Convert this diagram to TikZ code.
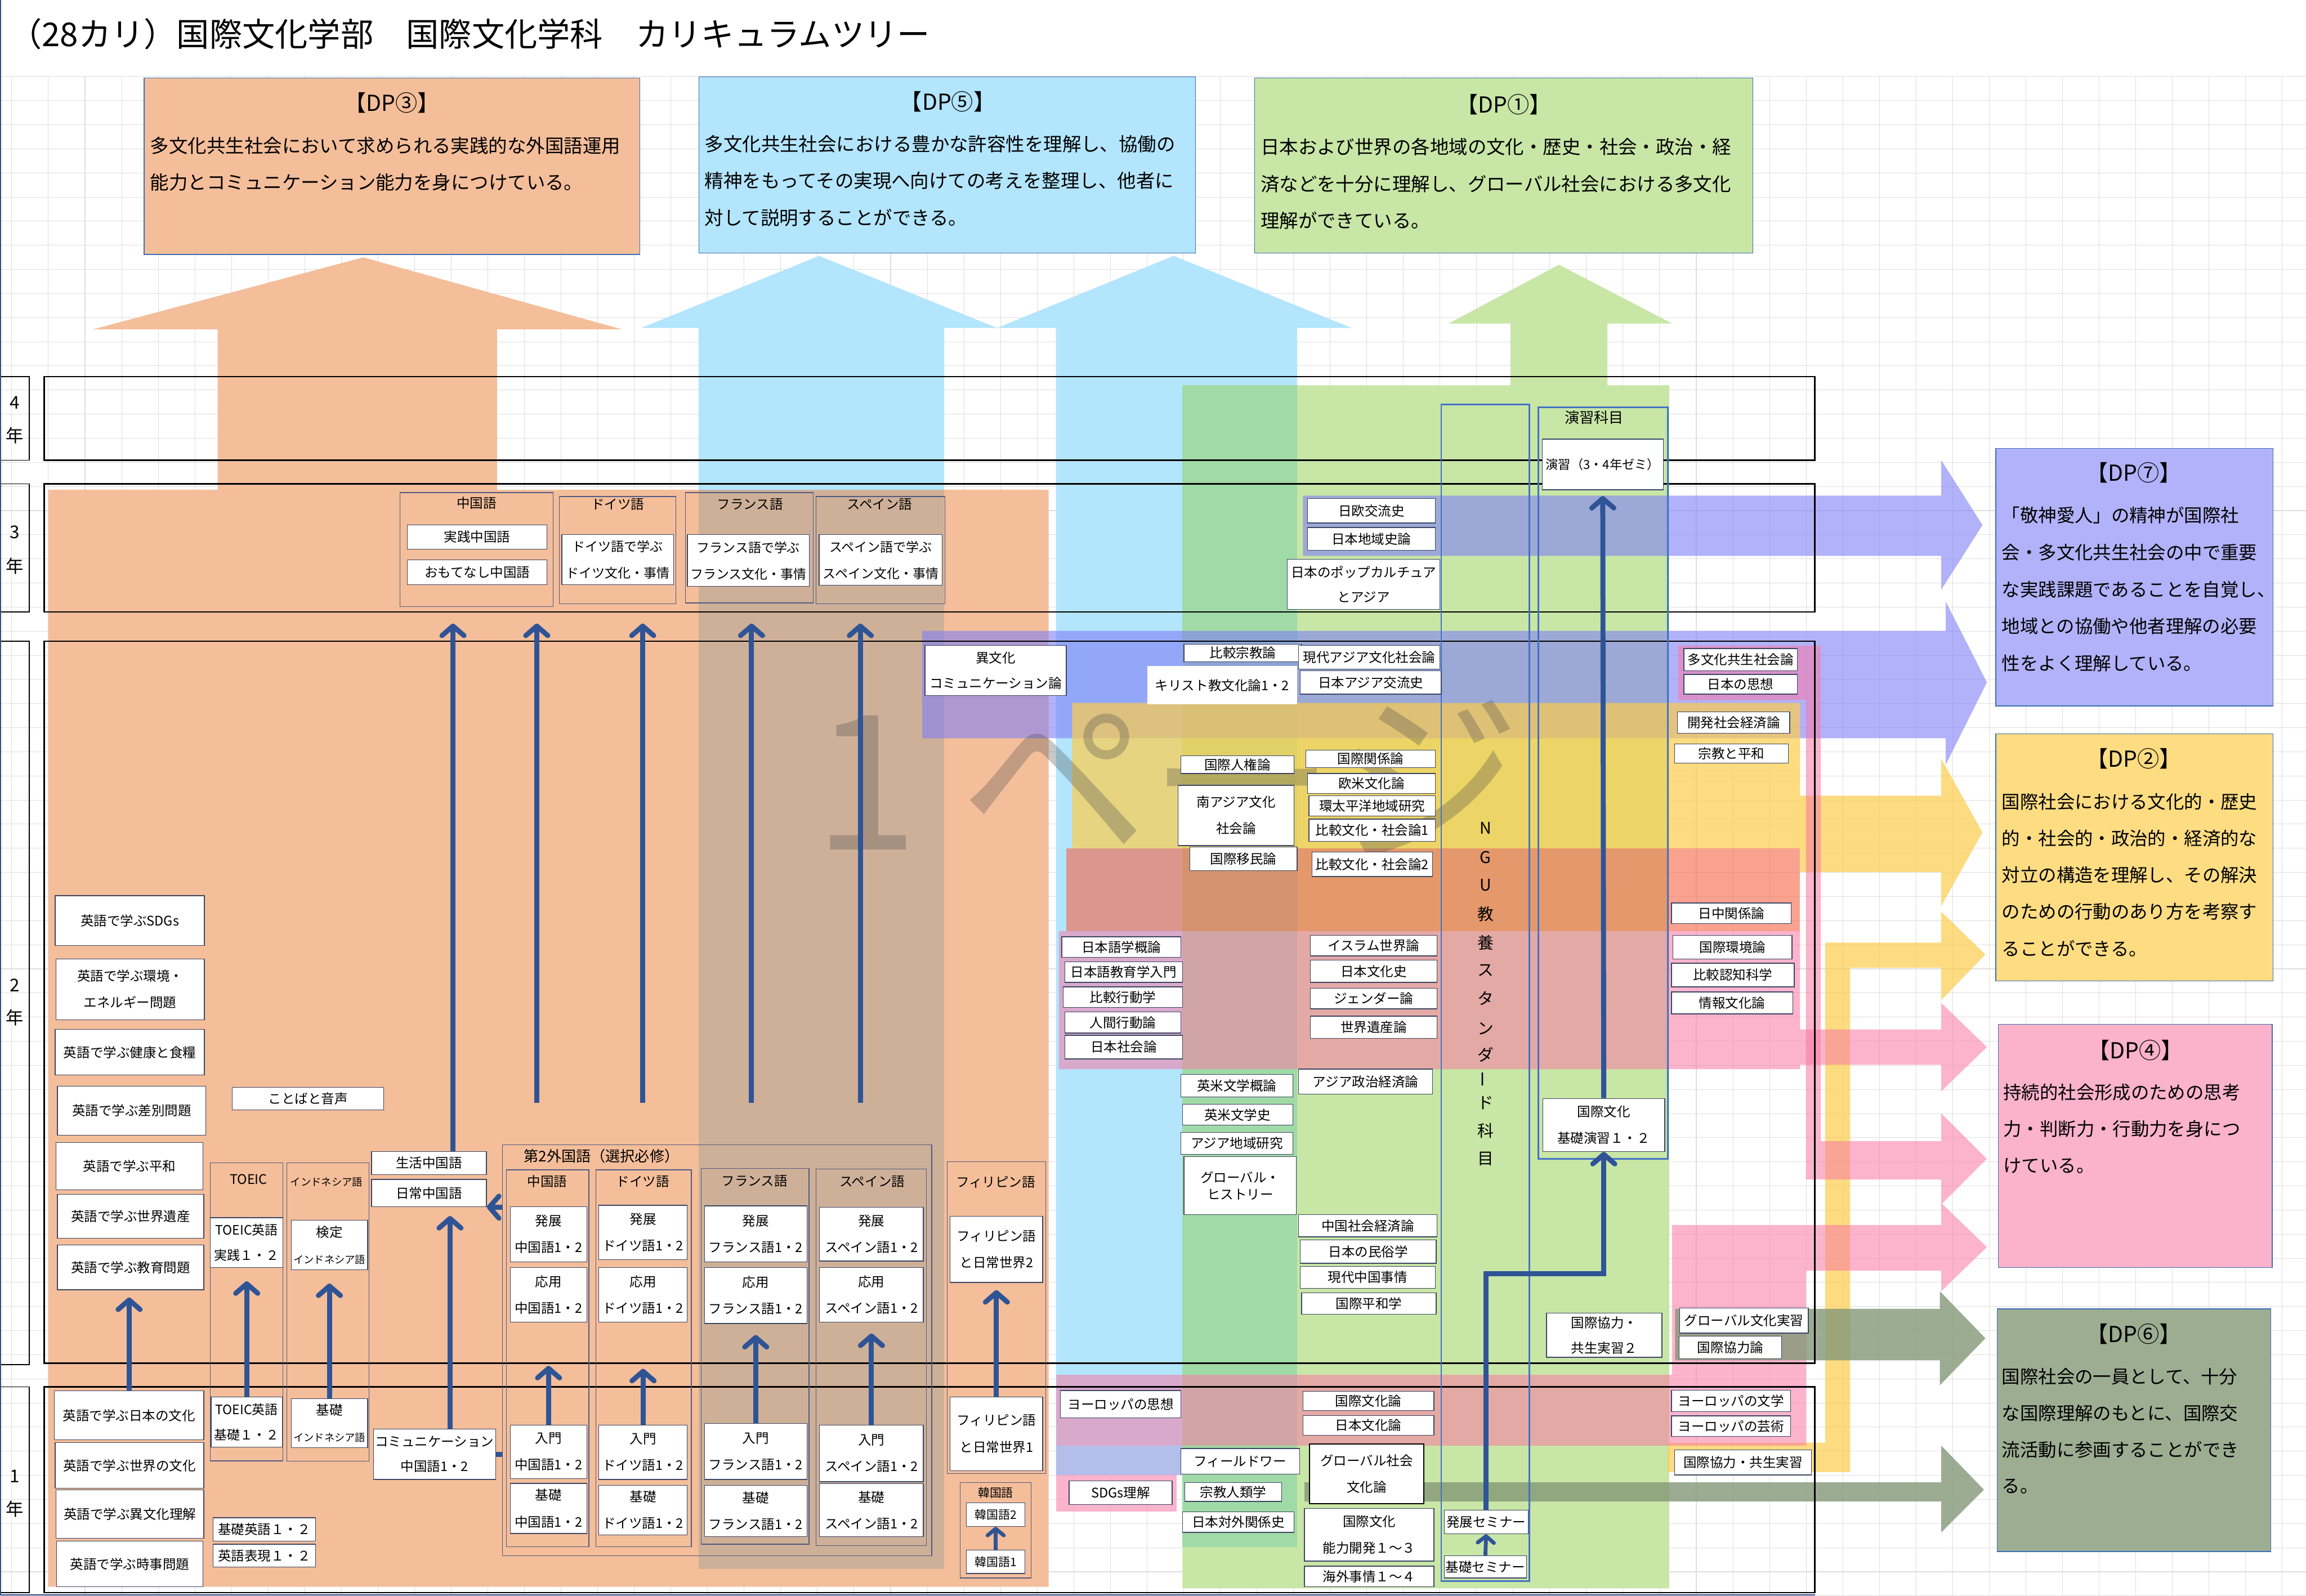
\documentclass[tikz,border=0pt]{standalone}
\usepackage{fontspec}
\setmainfont{Noto Sans CJK JP}
\usetikzlibrary{arrows.meta,calc}
\definecolor{orng}{RGB}{244,190,154}
\definecolor{lblue}{RGB}{179,229,252}
\definecolor{cTan}{RGB}{206,176,152}
\definecolor{lgreen}{RGB}{200,230,166}
\definecolor{dgreen}{RGB}{160,218,166}
\definecolor{lavd}{RGB}{180,190,235}
\definecolor{purp}{RGB}{127,127,247}
\definecolor{yell}{RGB}{252,205,76}
\definecolor{redb}{RGB}{247,100,70}
\definecolor{pinkb}{RGB}{250,120,165}
\definecolor{oliv}{RGB}{131,152,119}
\definecolor{dpseven}{RGB}{178,178,250}
\definecolor{dptwo}{RGB}{253,220,130}
\definecolor{dpfour}{RGB}{251,178,203}
\definecolor{dpsix}{RGB}{156,173,146}
\definecolor{arrc}{RGB}{47,84,150}
\definecolor{boxc}{RGB}{60,70,100}
\definecolor{grpc}{RGB}{80,90,130}
\definecolor{nguc}{RGB}{68,114,196}
\definecolor{gridc}{RGB}{222,222,222}
\definecolor{dpedge}{RGB}{60,110,180}
\tikzset{
 cbox/.style={draw=boxc, fill=white, line width=0.5pt, inner sep=0pt, align=center, font=\fontsize{9}{18}\selectfont},
 cgrp/.style={draw=grpc, fill=none, line width=0.5pt},
 glbl/.style={inner sep=0pt, font=\fontsize{9}{11}\selectfont},
 yrl/.style={inner sep=0pt, font=\fontsize{12}{14}\selectfont},
 ngut/.style={inner sep=0pt, font=\fontsize{11}{13}\selectfont},
 dpbox/.style={draw=dpedge, line width=0.5pt},
 dptitle/.style={inner sep=0pt, font=\fontsize{15}{18}\selectfont},
 dptxt/.style={inner sep=0pt, anchor=west, font=\fontsize{12.8}{15}\selectfont},
 arr/.style={draw=arrc, line width=3.4pt, -{Straight Barb[length=6.5pt,width=15pt,round]}},
 arrs/.style={draw=arrc, line width=2.6pt, -{Straight Barb[length=4.5pt,width=11pt,round]}},
 rowfr/.style={draw=black, line width=0.9pt},
}
\newcommand\cbx[7][]{\node[cbox,#1,minimum width={#5-#3},minimum height={#6-#4}] (#2) at ({(#3+#5)/2},{(#4+#6)/2}) {#7};}
\newcommand\dplines[5]{\foreach \dpl [count=\dpi] in {#5} {\node[dptxt] (#1\dpi) at (#2,{#3+(\dpi-1)*#4}) {\dpl};}}
\begin{document}
\begin{tikzpicture}[x=1pt,y=-1pt]
\useasboundingbox (0,0) rectangle (1568,1085);
\fill[white] (0,0) rectangle (1568,1085);
% grid
\foreach \gx in {0,...,62} \draw[gridc,line width=0.4pt] ({8+24.9*\gx},52) -- ({8+24.9*\gx},1085);
\foreach \gy in {0,...,63} \draw[gridc,line width=0.4pt] (0,{52+16.4*\gy}) -- (1568,{52+16.4*\gy});
% opaque columns
\fill[orng] (33,1079) -- (33,333) -- (148,333) -- (148,224) -- (63,224) -- (247,175) -- (423,224) -- (338,224) -- (338,333) -- (713,333) -- (713,1079) -- cycle;
\fill[lblue] (475,333) -- (475,223) -- (436,223) -- (557,174) -- (678,223) -- (642,223) -- (642,333) -- cycle;
\fill[cTan] (475,333) rectangle (642,1067);
\fill[lgreen] (804,1080) -- (804,262) -- (1027,262) -- (1027,220) -- (985,220) -- (1060,180) -- (1137,220) -- (1093,220) -- (1093,262) -- (1135,262) -- (1135,1080) -- cycle;
\fill[lblue] (718,1003) -- (718,223) -- (678,223) -- (798,174) -- (919,223) -- (882,223) -- (882,1003) -- cycle;
\fill[dgreen] (804,262) rectangle (882,1052);
\fill[lavd] (718,983) rectangle (804,1003);
% transparent bands
\fill[purp, fill opacity=0.6] (886,337) -- (1320,337) -- (1320,313) -- (1348,357) -- (1320,401) -- (1320,378) -- (886,378) -- cycle;
\fill[purp, fill opacity=0.6] (627,429) -- (1323,429) -- (1323,409) -- (1351,464) -- (1323,520) -- (1323,502) -- (627,502) -- cycle;
\fill[yell, fill opacity=0.7] (729,478) -- (1224,478) -- (1224,541) -- (1320,541) -- (1320,516) -- (1348,566) -- (1320,616) -- (1320,593) -- (1224,593) -- (1224,577) -- (729,577) -- cycle;
\fill[redb, fill opacity=0.6] (725,577) rectangle (1224,633);
\fill[yell, fill opacity=0.7] (1134,981) -- (1241,981) -- (1241,641) -- (1320,641) -- (1320,620) -- (1350,649) -- (1320,680) -- (1320,658) -- (1258,658) -- (1258,1001) -- (1134,1001) -- cycle;
\fill[pinkb, fill opacity=0.55] (720,633) -- (1224,633) -- (1224,700) -- (1320,700) -- (1320,682) -- (1351,712) -- (1320,742) -- (1320,724) -- (1224,724) -- (1224,727) -- (720,727) -- cycle;
\fill[pinkb, fill opacity=0.55] (1141,439) -- (1238,439) -- (1238,776) -- (1320,776) -- (1320,757) -- (1351,788) -- (1320,819) -- (1320,802) -- (1228,802) -- (1228,476) -- (1141,476) -- cycle;
\fill[pinkb, fill opacity=0.55] (1137,833) -- (1320,833) -- (1320,818) -- (1351,848) -- (1320,878) -- (1320,864) -- (1228,864) -- (1228,935) -- (1137,935) -- cycle;
\fill[pinkb, fill opacity=0.55] (718,935) rectangle (1228,983);
\fill[pinkb, fill opacity=0.55] (718,1003) rectangle (800,1028);
\fill[oliv, fill opacity=0.8] (1139,890) -- (1319,890) -- (1319,878) -- (1350,910) -- (1319,942) -- (1319,925) -- (1139,925) -- cycle;
\fill[oliv, fill opacity=0.8] (887,1008) -- (1320,1008) -- (1320,983) -- (1349,1013) -- (1320,1042) -- (1320,1021) -- (887,1021) -- cycle;
% watermark
\node[anchor=base west, inner sep=0pt, font=\fontsize{128}{128}\selectfont, text=black!70, text opacity=0.3] (wm) at (553,578) {1 ページ};
% row frames
\draw[rowfr] (30,256) rectangle (1234,313);
\draw[rowfr] (30,329) rectangle (1234,416);
\draw[rowfr] (30,436) rectangle (1234,927);
\draw[rowfr] (30,943) rectangle (1234,1083);
\draw[rowfr,line width=0.6pt] (0.5,256) rectangle (20,313);
\draw[rowfr,line width=0.6pt] (0.5,329) rectangle (20,416);
\draw[rowfr,line width=0.6pt] (0.5,436) rectangle (20,928);
\draw[rowfr,line width=0.6pt] (0.5,943) rectangle (20,1083);
\node[yrl] (y4a) at (10,274) {4}; \node[yrl] (y4b) at (10,296) {年};
\node[yrl] (y3a) at (10,362) {3}; \node[yrl] (y3b) at (10,385) {年};
\node[yrl] (y2a) at (10,670) {2}; \node[yrl] (y2b) at (10,692) {年};
\node[yrl] (y1a) at (10,1004) {1}; \node[yrl] (y1b) at (10,1026) {年};
% NGU and enshu columns
\cbx[cgrp, draw=nguc, line width=1pt]{ngu}{980}{275}{1040}{1075}{}
\cbx[cgrp, draw=nguc, line width=1pt]{enshuG}{1046}{277}{1134}{788}{}
\node[glbl, font=\fontsize{10}{12}\selectfont] (enshuL) at (1084,284) {演習科目};
\node[ngut] (n1) at (1010,563) {N};
\node[ngut] (n2) at (1010,583) {G};
\node[ngut] (n3) at (1010,602) {U};
\node[ngut] (n4) at (1010,621.5) {教};
\node[ngut] (n5) at (1010,641) {養};
\node[ngut] (n6) at (1010,660) {ス};
\node[ngut] (n7) at (1010,679) {タ};
\node[ngut] (n8) at (1010,699.5) {ン};
\node[ngut] (n9) at (1010,717) {ダ};
\node[ngut, rotate=90] (n10) at (1010,734) {ー};
\node[ngut] (n11) at (1010,750) {ド};
\node[ngut] (n12) at (1010,769) {科};
\node[ngut] (n13) at (1010,788) {目};
% year 3
\cbx[cgrp]{gA}{272}{335}{376}{412.6}{}
\node[glbl] (gAl) at (324,342) {中国語};
\cbx{jissen}{277}{357}{372}{373.4}{実践中国語}
\cbx{omote}{277}{380.8}{372}{397.6}{おもてなし中国語}
\cbx[cgrp]{gB}{380.3}{337.6}{459.6}{410.5}{}
\node[glbl] (gBl) at (420,343) {ドイツ語};
\cbx[font=\fontsize{8.8}{18}\selectfont]{deK}{382}{363.6}{458}{397.6}{ドイツ語で学ぶ\\ドイツ文化・事情}
\cbx[cgrp]{gC}{466}{335}{553}{410}{}
\node[glbl] (gCl) at (510,343) {フランス語};
\cbx[font=\fontsize{8.8}{18}\selectfont]{frK}{467.4}{363.6}{550.3}{398.8}{フランス語で学ぶ\\フランス文化・事情}
\cbx[cgrp]{gD}{555}{337.6}{642.5}{410.5}{}
\node[glbl] (gDl) at (598,343) {スペイン語};
\cbx[font=\fontsize{8.8}{18}\selectfont]{esK}{557}{363.6}{640.7}{398}{スペイン語で学ぶ\\スペイン文化・事情}
\cbx{nichiou}{889}{339}{976}{355.6}{日欧交流史}
\cbx{chiiki}{889}{358.7}{976}{374.3}{日本地域史論}
\cbx[font=\fontsize{9}{17}\selectfont]{pop}{875.4}{380.4}{979}{414.4}{日本のポップカルチュア\\とアジア}
\cbx[font=\fontsize{8.5}{12}\selectfont]{enshu}{1048.6}{298.6}{1131}{333}{演習（3・4年ゼミ）}
% year 2 middle
\cbx[font=\fontsize{9}{17}\selectfont]{ibunka}{629}{439}{725}{473}{異文化\\コミュニケーション論}
\cbx{hikakushu}{805}{438}{885}{450}{比較宗教論}
\cbx[draw=none]{kirisuto}{780}{453}{882}{479}{キリスト教文化論1・2}
\cbx{gendai}{883}{439}{979}{455}{現代アジア文化社会論}
\cbx{nihonasia}{884}{456}{980}{472}{日本アジア交流史}
\cbx{tabunka}{1145}{441}{1222}{456}{多文化共生社会論}
\cbx{shiso}{1145}{458.6}{1222}{472}{日本の思想}
\cbx{kaihatsu}{1140.6}{484}{1217}{498.6}{開発社会経済論}
\cbx{shukyo}{1138.6}{506}{1216}{519}{宗教と平和}
\cbx{jinken}{803}{514}{880}{526}{国際人権論}
\cbx{minami}{801}{534}{880}{575}{南アジア文化\\社会論}
\cbx{imin}{809}{576}{882}{592}{国際移民論}
\cbx{kankei}{888}{510}{976}{522}{国際関係論}
\cbx{obei}{889}{526}{976}{539.5}{欧米文化論}
\cbx{kantai}{890}{541}{976}{555}{環太平洋地域研究}
\cbx{hikaku1}{890}{557}{976}{572}{比較文化・社会論1}
\cbx{hikaku2}{892}{579.5}{974}{596}{比較文化・社会論2}
\cbx{nicchu}{1136.5}{614}{1218}{628}{日中関係論}
\cbx{nihongo}{722}{637}{803}{651}{日本語学概論}
\cbx{kyoiku}{724}{654}{804}{668}{日本語教育学入門}
\cbx{kodo}{723}{671}{804}{685}{比較行動学}
\cbx{ningen}{724}{688}{803}{702.5}{人間行動論}
\cbx{shakai}{724}{704}{804}{720}{日本社会論}
\cbx{islam}{891}{636}{977}{650}{イスラム世界論}
\cbx{bunkashi}{891}{653}{977}{668}{日本文化史}
\cbx{gender}{891}{672}{977}{686}{ジェンダー論}
\cbx{isan}{891}{691}{977}{706}{世界遺産論}
\cbx{kankyo}{1137.5}{636}{1218.5}{652}{国際環境論}
\cbx{ninchi}{1136.5}{655}{1220}{671}{比較認知科学}
\cbx{joho}{1136.5}{674.5}{1219}{689.4}{情報文化論}
\cbx{asiasei}{883}{727}{974}{744}{アジア政治経済論}
\cbx{eibeiG}{803}{730.5}{879}{746}{英米文学概論}
\cbx{eibeiS}{804}{751}{879}{765}{英米文学史}
\cbx{asiachi}{803}{770}{879}{785}{アジア地域研究}
\cbx[font=\fontsize{9}{11.5}\selectfont]{ghist}{805}{786.5}{881.5}{826}{グローバル・\\ヒストリー}
\cbx{chugokus}{883}{826}{977}{841}{中国社会経済論}
\cbx{minzoku}{884}{843}{976.5}{859}{日本の民俗学}
\cbx{chugokuj}{884}{861}{976}{876}{現代中国事情}
\cbx{heiwa}{885}{879}{976.5}{893.6}{国際平和学}
\cbx{kiso}{1049}{747}{1132}{783}{国際文化\\基礎演習１・２}
\cbx[font=\fontsize{9}{17}\selectfont]{kyoryoku2}{1051.6}{893}{1130}{923}{国際協力・\\共生実習２}
\cbx{gbjisshu}{1142}{889.5}{1229.6}{906.5}{グローバル文化実習}
\cbx{kyoryokuron}{1141.7}{908.5}{1211.5}{924}{国際協力論}
% year 1 middle
\cbx{eushiso}{721}{945.5}{803}{964}{ヨーロッパの思想}
\cbx{kokubun}{886}{946}{975}{959}{国際文化論}
\cbx{nihonbun}{886}{962.5}{975}{976}{日本文化論}
\cbx{field}{803}{985}{883.6}{1002.5}{フィールドワー}
\cbx{sdgs}{727}{1007}{797}{1023}{SDGs理解}
\cbx{jinrui}{805.5}{1008}{871.5}{1021}{宗教人類学}
\cbx{taigai}{804}{1028}{880}{1042}{日本対外関係史}
\cbx[draw=black, line width=0.7pt]{gshakai}{890.5}{982}{968}{1022.5}{グローバル社会\\文化論}
\cbx{noryoku}{887}{1025.6}{975}{1061.5}{国際文化\\能力開発１～３}
\cbx{kaigai}{887}{1065}{975}{1079}{海外事情１～４}
\cbx{hatten}{982}{1027}{1039}{1043}{発展セミナー}
\cbx{kisosem}{982}{1058}{1038}{1073}{基礎セミナー}
\cbx{eubun}{1136.5}{945.4}{1217.6}{960}{ヨーロッパの文学}
\cbx{eugei}{1136.5}{962.7}{1217.6}{976.8}{ヨーロッパの芸術}
\cbx{kyoryoku1}{1138.6}{986}{1231.8}{1003}{国際協力・共生実習}
% left english column
\cbx{eSDG}{37.5}{609}{139}{643}{英語で学ぶSDGs}
\cbx{eEnv}{38}{652}{139}{693.5}{英語で学ぶ環境・\\エネルギー問題}
\cbx{eHealth}{37.5}{700}{139}{731}{英語で学ぶ健康と食糧}
\cbx{eDisc}{39}{738.5}{140}{772}{英語で学ぶ差別問題}
\cbx{ePeace}{38}{777}{138}{809}{英語で学ぶ平和}
\cbx{eHer}{39}{812}{138.6}{842}{英語で学ぶ世界遺産}
\cbx{eEdu}{39}{846.5}{138.6}{877}{英語で学ぶ教育問題}
\cbx{kotoba}{158}{739.5}{261}{754.6}{ことばと音声}
\cbx[cgrp]{gToeic}{143}{790.6}{192.4}{993.4}{}
\node[glbl] (gToeicL) at (169,802) {TOEIC};
\cbx[font=\fontsize{8.8}{17}\selectfont]{toeicA}{143}{828}{192.4}{862}{TOEIC英語\\実践１・２}
\cbx[font=\fontsize{8.8}{17}\selectfont]{toeicB}{143.5}{950}{192}{984}{TOEIC英語\\基礎１・２}
\cbx[cgrp]{gInd}{195}{790.6}{251}{993.7}{}
\node[glbl, font=\fontsize{7}{9}\selectfont] (gIndL) at (222,804) {インドネシア語};
\cbx{indA}{198}{829.6}{250}{863.5}{検定\\{\fontsize{7}{9}\selectfont インドネシア語}}
\cbx{indB}{198}{951}{250}{984.5}{基礎\\{\fontsize{7}{9}\selectfont インドネシア語}}
\cbx{seikatsu}{252.6}{783}{330.8}{798.6}{生活中国語}
\cbx{nichijo}{252.6}{802}{330.8}{820.6}{日常中国語}
\cbx[font=\fontsize{9}{17}\selectfont]{comm}{254}{971.7}{337}{1006}{コミュニケーション\\中国語1・2}
\cbx{eJ}{37}{945.8}{138.6}{979}{英語で学ぶ日本の文化}
\cbx{eW}{37.5}{981}{138.6}{1012}{英語で学ぶ世界の文化}
\cbx{eI}{38}{1013}{138.6}{1046}{英語で学ぶ異文化理解}
\cbx{eN}{38.5}{1048}{138}{1079}{英語で学ぶ時事問題}
\cbx{kisoE}{145}{1032}{214.6}{1048}{基礎英語１・２}
\cbx{hyogen}{145}{1050}{214.6}{1065.6}{英語表現１・２}
% second foreign language
\cbx[cgrp]{g2}{341.6}{778.4}{633.6}{1058}{}
\node[glbl, font=\fontsize{10}{12}\selectfont] (g2L) at (409,786.3) {第2外国語（選択必修）};
\cbx[cgrp]{g2zh}{344.4}{795.5}{400.4}{1051.7}{}
\node[glbl] (g2zhL) at (372,803.4) {中国語};
\cbx[cgrp]{g2de}{405.2}{795.5}{470.1}{1051.7}{}
\node[glbl] (g2deL) at (437,803.4) {ドイツ語};
\cbx[cgrp]{g2fr}{476.9}{794.5}{550.1}{1050}{}
\node[glbl] (g2frL) at (513,803) {フランス語};
\cbx[cgrp]{g2es}{555}{795}{629.8}{1051}{}
\node[glbl] (g2esL) at (593,803.4) {スペイン語};
\cbx{zh3}{347}{820.6}{399}{858}{発展\\中国語1・2}
\cbx{zh2}{347}{862}{399}{899}{応用\\中国語1・2}
\cbx{zh1}{347}{969}{399}{1005.5}{入門\\中国語1・2}
\cbx{zh0}{347}{1008.7}{399}{1042.8}{基礎\\中国語1・2}
\cbx{de3}{407.2}{819.6}{467.3}{856.5}{発展\\ドイツ語1・2}
\cbx{de2}{407.2}{862}{467.3}{899}{応用\\ドイツ語1・2}
\cbx{de1}{407.2}{969}{467.3}{1006}{入門\\ドイツ語1・2}
\cbx{de0}{407.2}{1010}{467.3}{1043.6}{基礎\\ドイツ語1・2}
\cbx{fr3}{479}{820}{548.7}{858}{発展\\フランス語1・2}
\cbx{fr2}{479}{862}{548.7}{900}{応用\\フランス語1・2}
\cbx{fr1}{479}{968}{548.7}{1006}{入門\\フランス語1・2}
\cbx{fr0}{479}{1010}{548.7}{1045}{基礎\\フランス語1・2}
\cbx{es3}{557.3}{821}{627.8}{857.5}{発展\\スペイン語1・2}
\cbx{es2}{557.3}{862}{627.8}{899}{応用\\スペイン語1・2}
\cbx{es1}{557.3}{969}{627.8}{1007.5}{入門\\スペイン語1・2}
\cbx{es0}{557.3}{1009}{627.8}{1045}{基礎\\スペイン語1・2}
% philippine, korean
\cbx[cgrp]{gPh}{644}{790}{711}{1002}{}
\node[glbl] (gPhL) at (677,804) {フィリピン語};
\cbx{ph2}{646}{827}{709}{872}{フィリピン語\\と日常世界2}
\cbx{ph1}{646}{950}{709}{1000}{フィリピン語\\と日常世界1}
\cbx[cgrp]{gKo}{653}{1008}{701}{1073}{}
\node[glbl, font=\fontsize{8}{10}\selectfont] (gKoL) at (677,1015) {韓国語};
\cbx[font=\fontsize{8}{10}\selectfont]{ko2}{657}{1022}{697}{1038}{韓国語2}
\cbx[font=\fontsize{8}{10}\selectfont]{ko1}{657}{1054}{697}{1070}{韓国語1}
% arrows
\coordinate (t1) at (308,424);
\coordinate (b2) at (365,750); \coordinate (t2) at (365,424);
\coordinate (b3) at (437,750); \coordinate (t3) at (437,424);
\coordinate (b4) at (511,750); \coordinate (t4) at (511,424);
\coordinate (b5) at (585,750); \coordinate (t5) at (585,424);
\coordinate (s1) at ([xshift=16.3pt]seikatsu.north);
\draw[arr] (s1) -- (t1);
\draw[arr] (b2) -- (t2);
\draw[arr] (b3) -- (t3);
\draw[arr] (b4) -- (t4);
\draw[arr] (b5) -- (t5);
\draw[arr, shorten >=5pt] (eJ.north) -- (eJ.north |- eEdu.south);
\draw[arr, shorten >=9pt] (toeicB.north) -- (toeicB.north |- toeicA.south);
\draw[arr, shorten >=9pt] (indB.north) -- (indB.north |- indA.south);
\coordinate (cx) at ([xshift=10.5pt]comm.north);
\draw[arr, shorten >=6pt] (cx) -- (cx |- nichijo.south);
\draw[arr] (zh1.north) -- ([yshift=40pt]zh1.north);
\draw[arr] (de1.north) -- ([yshift=38pt]de1.north);
\draw[arr] (fr1.north) -- ([yshift=60pt]fr1.north);
\draw[arr] (es1.north) -- ([yshift=62pt]es1.north);
\draw[arr] (g2.west |- nichijo.south east) -- (nichijo.south east);
\draw[draw=arrc, line width=3.4pt] (comm.east) -- (comm.east -| g2.west);
\draw[arr, shorten >=5pt] (ph1.north) -- (ph1.north |- ph2.south);
\draw[arrs] (ko1.north) -- (ko2.south);
\draw[arrs] (kisosem.north) -- (hatten.south);
\draw[arr] (hatten.north) |- ($(kiso.south)+(0,83)$) -- (kiso.south);
\draw[arr, shorten >=4pt] (kiso.north) -- (enshu.south);
% DP boxes top
\cbx[dpbox, fill=orng]{dp3}{98}{53}{435}{173}{}
\node[dptitle] (dp3t) at (266.5,70) {【DP③】};
\dplines{dp3l}{102}{99}{25}{多文化共生社会において求められる実践的な外国語運用,能力とコミュニケーション能力を身につけている。}
\cbx[dpbox, fill=lblue]{dp5}{475.3}{52.2}{813}{172}{}
\node[dptitle] (dp5t) at (644.5,69) {【DP⑤】};
\dplines{dp5l}{479}{98}{25}{多文化共生社会における豊かな許容性を理解し、協働の,精神をもってその実現へ向けての考えを整理し、他者に,対して説明することができる。}
\cbx[dpbox, fill=lgreen]{dp1}{853}{53}{1192}{172}{}
\node[dptitle] (dp1t) at (1022.5,71) {【DP①】};
\dplines{dp1l}{857}{100}{25}{日本および世界の各地域の文化・歴史・社会・政治・経,済などを十分に理解し、グローバル社会における多文化,理解ができている。}
% DP boxes right
\begin{scope}[dptxt/.append style={font=\fontsize{12.4}{15}\selectfont}]
\cbx[dpbox, fill=dpseven]{dp7}{1357}{304.8}{1545.7}{480}{}
\node[dptitle] (dp7t) at (1451,321.5) {【DP⑦】};
\dplines{dp7l}{1361}{350.5}{25.1}{「敬神愛人」の精神が国際社,会・多文化共生社会の中で重要,な実践課題であることを自覚し、,地域との協働や他者理解の必要,性をよく理解している。}
\cbx[dpbox, fill=dptwo]{dp2}{1357}{499}{1545.5}{667}{}
\node[dptitle] (dp2t) at (1451,516) {【DP②】};
\dplines{dp2l}{1361}{545}{25}{国際社会における文化的・歴史,的・社会的・政治的・経済的な,対立の構造を理解し、その解決,のための行動のあり方を考察す,ることができる。}
\cbx[dpbox, fill=dpfour]{dp4}{1358.7}{696.6}{1545}{862}{}
\node[dptitle] (dp4t) at (1452,714) {【DP④】};
\dplines{dp4l}{1362}{742.6}{25.1}{持続的社会形成のための思考,力・判断力・行動力を身につ,けている。}
\cbx[dpbox, fill=dpsix]{dp6}{1358}{890}{1544}{1055}{}
\node[dptitle] (dp6t) at (1451,907) {【DP⑥】};
\dplines{dp6l}{1361}{936}{24.9}{国際社会の一員として、十分,な国際理解のもとに、国際交,流活動に参画することができ,る。}
\end{scope}
% title
\node[anchor=west, inner sep=0pt, font=\fontsize{22.3}{25}\selectfont] (title) at (6,23) {（28カリ）国際文化学部　国際文化学科　カリキュラムツリー};
% border
\draw[draw=nguc!70!black, line width=0.7pt] (0.4,0) -- (0.4,1085);
\draw[draw=nguc!70!black, line width=0.7pt] (0,1084.5) -- (1234,1084.5);
\end{tikzpicture}
\end{document}
